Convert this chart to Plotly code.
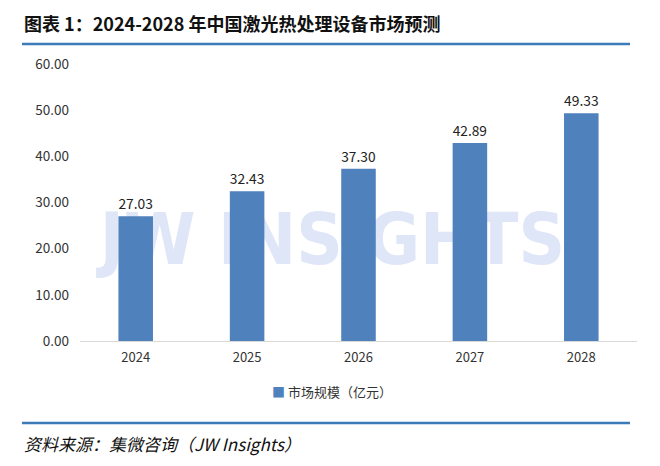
import plotly.graph_objects as go

years = ["2024", "2025", "2026", "2027", "2028"]
market_size = [27.03, 32.43, 37.30, 42.89, 49.33]
series_name = "市场规模（亿元）"
title_text = "图表 1：2024-2028 年中国激光热处理设备市场预测"
source_text = "资料来源：集微咨询（JW Insights）"
watermark_text = "JW INSIGHTS"

OFF = 8  # page body margin
W, H = 660 - OFF, 466 - OFF
# reference pixel positions of plot area
PL, PR, PT, PB = 80, 637, 64, 341
L, R, T, B = PL - OFF, W - (PR - OFF), PT - OFF, H - (PB - OFF)
pw, ph = PR - PL, PB - PT

def px(x):
    return (x - PL) / pw

def py(y):
    return (PB - y) / ph

FONT = "Noto Sans CJK SC"
BLUE = "#4f81bd"

fig = go.Figure()
fig.add_trace(go.Bar(
    x=years, y=market_size, name=series_name,
    marker=dict(color=BLUE, line=dict(width=0)),
    text=[f"{v:.2f}" for v in market_size],
    textposition="outside", cliponaxis=False,
    textfont=dict(family=FONT, size=14, color="#222222"),
    width=0.31, showlegend=False,
))

fig.update_layout(
    width=W, height=H,
    margin=dict(l=L, r=R, t=T, b=B, autoexpand=False),
    paper_bgcolor="white", plot_bgcolor="white",
    font=dict(family=FONT, color="#333333"),
    showlegend=False,
    xaxis=dict(showline=True, linecolor="#d9d9d9", linewidth=1, ticks="",
               ticklabelstandoff=4,
               tickfont=dict(family=FONT, size=13, color="#333333"), showgrid=False),
    yaxis=dict(range=[0, 60], dtick=10, tickformat=".2f", showgrid=False, zeroline=False,
               showline=False, ticks="", ticklabelstandoff=10,
               tickfont=dict(family=FONT, size=13.5, color="#333333")),
    bargap=0.69,
)

# watermark below bars
fig.add_shape(type="rect", xref="paper", yref="paper",
              x0=px(100), x1=px(565), y0=py(272), y1=py(196),
              line=dict(width=0), fillcolor="rgba(0,0,0,0)", layer="below",
              label=dict(text="<b>" + watermark_text + "</b>",
                         font=dict(family="DejaVu Sans Condensed, sans-serif",
                                   size=72, color="#dfe6f7"),
                         textposition="middle center"))

# header/footer lines
for yy in (44, 423):
    fig.add_shape(type="line", xref="paper", yref="paper",
                  x0=px(22), x1=px(630), y0=py(yy), y1=py(yy),
                  line=dict(color="#3d7ab8", width=2.5))

# legend as text
fig.add_annotation(text=f"<span style='color:{BLUE}'>■</span> {series_name}",
                   xref="paper", yref="paper", x=px(332), y=py(391),
                   xanchor="center", yanchor="middle", showarrow=False,
                   font=dict(family=FONT, size=13, color="#333333"))

fig.add_annotation(text=f"<b>{title_text}</b>", xref="paper", yref="paper",
                   x=px(22), y=py(OFF), xanchor="left", yanchor="top", showarrow=False,
                   font=dict(family=FONT, size=18, color="#111111"))
fig.add_annotation(text=f"<i>{source_text}</i>", xref="paper", yref="paper",
                   x=px(22), y=py(443), xanchor="left", yanchor="middle", showarrow=False,
                   font=dict(family=FONT, size=17, color="#111111"))

fig.write_html("out.html")
